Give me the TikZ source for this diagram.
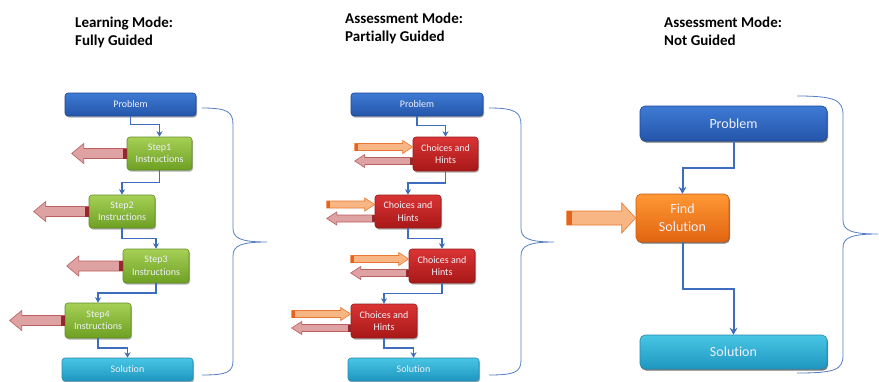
\documentclass[tikz,border=0pt]{standalone}
\usepackage{fontspec}
\setmainfont{Carlito}[Ligatures=NoCommon]
\usetikzlibrary{shadows,arrows.meta,calc}
\definecolor{blueTop}{RGB}{62,122,212}
\definecolor{blueBot}{RGB}{36,86,170}
\definecolor{blueBd}{RGB}{30,70,150}
\definecolor{greenTop}{RGB}{165,208,85}
\definecolor{greenBot}{RGB}{110,160,35}
\definecolor{greenBd}{RGB}{100,140,40}
\definecolor{redTop}{RGB}{218,52,52}
\definecolor{redBot}{RGB}{168,24,24}
\definecolor{redBd}{RGB}{145,28,28}
\definecolor{cyanTop}{RGB}{72,198,228}
\definecolor{cyanBot}{RGB}{30,150,192}
\definecolor{cyanBd}{RGB}{40,138,175}
\definecolor{orTop}{RGB}{255,152,52}
\definecolor{orBot}{RGB}{226,100,16}
\definecolor{orBd}{RGB}{200,90,20}
\definecolor{connCol}{RGB}{62,108,190}
\definecolor{braceCol}{RGB}{85,125,195}
\definecolor{pinkFill}{RGB}{222,162,162}
\definecolor{pinkBd}{RGB}{185,95,95}
\definecolor{pinkStrip}{RGB}{150,40,45}
\definecolor{orArrFill}{RGB}{248,182,132}
\definecolor{orArrBd}{RGB}{235,120,50}
\definecolor{orStrip}{RGB}{230,100,25}
\definecolor{boxText}{RGB}{238,240,248}
\begin{document}
\begin{tikzpicture}[x=1pt,y=-1pt,
  title/.style={anchor=north west, inner sep=0pt, align=left,
    font=\fontsize{15}{18}\selectfont\bfseries},
  box/.style={rounded corners=3pt, line width=0.6pt, align=center, inner sep=0pt,
    text=boxText, font=\fontsize{10}{12.5}\selectfont,
    drop shadow={shadow xshift=1pt, shadow yshift=-1.5pt, opacity=0.3, fill=black}},
  bigbox/.style={box, rounded corners=5pt, font=\fontsize{14}{18}\selectfont},
  bluebox/.style={top color=blueTop, bottom color=blueBot, draw=blueBd},
  greenbox/.style={top color=greenTop, bottom color=greenBot, draw=greenBd},
  redbox/.style={top color=redTop, bottom color=redBot, draw=redBd},
  cyanbox/.style={top color=cyanTop, bottom color=cyanBot, draw=cyanBd},
  orbox/.style={top color=orTop, bottom color=orBot, draw=orBd},
  conn/.style={draw=connCol, line width=1.3pt, -{Stealth[length=5.5pt,width=6pt]}},
  connbig/.style={draw=connCol, line width=2pt, -{Stealth[length=7pt,width=8pt,inset=2.5pt]}},
  bracestyle/.style={draw=braceCol, line width=0.8pt},
  pinkarr/.style={fill=pinkFill, draw=pinkBd, line width=0.6pt},
  orarr/.style={fill=orArrFill, draw=orArrBd, line width=0.6pt},
  pics/larr/.style n args={5}{code={
    \path[pinkarr] (0,-#2) -- ({-(#1)+(#4)},-#2) -- ({-(#1)+(#4)},-#3) -- ({-(#1)},0)
      -- ({-(#1)+(#4)},#3) -- ({-(#1)+(#4)},#2) -- (0,#2) -- cycle;
    \fill[pinkStrip] (-#5,-#2) rectangle (0,#2);
  }},
  pics/rarr/.style n args={5}{code={
    \path[orarr] ({-(#1)},-#2) -- ({-(#4)},-#2) -- ({-(#4)},-#3) -- (0,0)
      -- ({-(#4)},#3) -- ({-(#4)},#2) -- ({-(#1)},#2) -- cycle;
    \fill[orStrip] ({-(#1)},-#2) rectangle ({-(#1)+(#5)},#2);
  }}
]
\useasboundingbox (0,0) rectangle (879,381);
\fill[white] (0,0) rectangle (879,381);

% titles
\node[title] (t1) at (75,17) {Learning Mode:\\Fully Guided};
\node[title] (t2) at (345,13) {Assessment Mode:\\Partially Guided};
\node[title] (t3) at (664,17) {Assessment Mode:\\Not Guided};

% ---------- panel 1 ----------
\node[box, bluebox, minimum width=131pt, minimum height=23pt] (p1) at (130.5,104.5) {Problem};
\node[box, greenbox, minimum width=65pt, minimum height=33pt] (s1) at (159.5,153.5) {Step1\\Instructions};
\node[box, greenbox, minimum width=66pt, minimum height=33pt] (s2) at (122,211.5) {Step2\\Instructions};
\node[box, greenbox, minimum width=66pt, minimum height=34pt] (s3) at (156,266) {Step3\\Instructions};
\node[box, greenbox, minimum width=66pt, minimum height=35pt] (s4) at (98,320.5) {Step4\\Instructions};
\node[box, cyanbox, minimum width=131pt, minimum height=23pt] (o1) at (127.5,369.5) {Solution};

\draw[conn] (p1.south) |- ($(p1.south)!0.4!(s1.north)$) -| (s1.north);
\draw[conn] (s1.south) |- ($(s1.south)!0.5!(s2.north)$) -| (s2.north);
\draw[conn] (s2.south) |- ($(s2.south)!0.5!(s3.north)$) -| (s3.north);
\draw[conn] (s3.south) |- ($(s3.south)!0.5!(s4.north)$) -| (s4.north);
\draw[conn] (s4.south) |- ($(s4.south)!0.5!(o1.north)$) -| (o1.north);

\pic at (s1.west) {larr={55}{5}{10}{12}{4}};
\pic at (s2.west) {larr={55}{5}{10}{12}{4}};
\pic at (s3.west) {larr={56}{5}{10}{12}{4}};
\pic at (s4.west) {larr={55}{5}{10}{12}{4}};

\draw[bracestyle] (202,108) .. controls (228,108) and (233,112) .. (233,125)
  -- (233,228) .. controls (233,238) and (240,242) .. (267,242)
  .. controls (240,242) and (233,246) .. (233,256)
  -- (233,360) .. controls (233,372) and (228,375) .. (202,375);

% ---------- panel 2 ----------
\node[box, bluebox, minimum width=132pt, minimum height=23pt] (p2) at (417,104.5) {Problem};
\node[box, redbox, minimum width=65pt, minimum height=34pt] (c1) at (445.5,154) {Choices and\\Hints};
\node[box, redbox, minimum width=66pt, minimum height=33pt] (c2) at (408,211.5) {Choices and\\Hints};
\node[box, redbox, minimum width=66pt, minimum height=34pt] (c3) at (442,266) {Choices and\\Hints};
\node[box, redbox, minimum width=66pt, minimum height=34pt] (c4) at (384,321) {Choices and\\Hints};
\node[box, cyanbox, minimum width=131pt, minimum height=23pt] (o2) at (413.5,369.5) {Solution};

\draw[conn] (p2.south) |- ($(p2.south)!0.45!(c1.north)$) -| (c1.north);
\draw[conn] (c1.south) |- ($(c1.south)!0.5!(c2.north)$) -| (c2.north);
\draw[conn] (c2.south) |- ($(c2.south)!0.5!(c3.north)$) -| (c3.north);
\draw[conn] (c3.south) |- ($(c3.south)!0.5!(c4.north)$) -| (c4.north);
\draw[conn] (c4.south) |- ($(c4.south)!0.5!(o2.north)$) -| (o2.north);

\pic at ($(c1.west)+(0,-7)$) {rarr={58}{3.5}{6.5}{10}{3}};
\pic at ($(c1.west)+(0,7)$) {larr={58}{3.5}{6.5}{10}{3}};
\pic at ($(c2.west)+(0,-7)$) {rarr={48}{3.5}{6.5}{10}{3}};
\pic at ($(c2.west)+(0,7)$) {larr={48}{3.5}{6.5}{10}{3}};
\pic at ($(c3.west)+(0,-7)$) {rarr={58}{3.5}{6.5}{10}{3}};
\pic at ($(c3.west)+(0,7)$) {larr={58}{3.5}{6.5}{10}{3}};
\pic at ($(c4.west)+(0,-7)$) {rarr={59}{3.5}{6.5}{10}{3}};
\pic at ($(c4.west)+(0,7)$) {larr={59}{3.5}{6.5}{10}{3}};

\draw[bracestyle] (489,108) .. controls (515,108) and (521,112) .. (521,125)
  -- (521,228) .. controls (521,238) and (528,242) .. (554,242)
  .. controls (528,242) and (521,246) .. (521,256)
  -- (521,360) .. controls (521,372) and (515,375) .. (489,375);

% ---------- panel 3 ----------
\node[box, bigbox, bluebox, minimum width=187pt, minimum height=35pt] (p3) at (733.5,123.5) {Problem};
\node[box, bigbox, orbox, minimum width=93pt, minimum height=48pt] (f3) at (682.5,218) {Find\\Solution};
\node[box, bigbox, cyanbox, minimum width=187pt, minimum height=34pt] (o3) at (733.5,352) {Solution};

\draw[connbig] (p3.south) |- ($(p3.south)!0.5!(f3.north)$) -| (f3.north);
\draw[connbig] (f3.south) |- ($(f3.south)!0.5!(o3.north)$) -| (o3.north);

\pic at (f3.west) {rarr={69}{7}{15}{14}{5}};

\draw[bracestyle] (797,96) .. controls (835,96) and (843,100) .. (843,115)
  -- (843,220) .. controls (843,230) and (850,234) .. (878,234)
  .. controls (850,234) and (843,238) .. (843,248)
  -- (843,355) .. controls (843,370) and (835,373) .. (797,373);
\end{tikzpicture}
\end{document}
